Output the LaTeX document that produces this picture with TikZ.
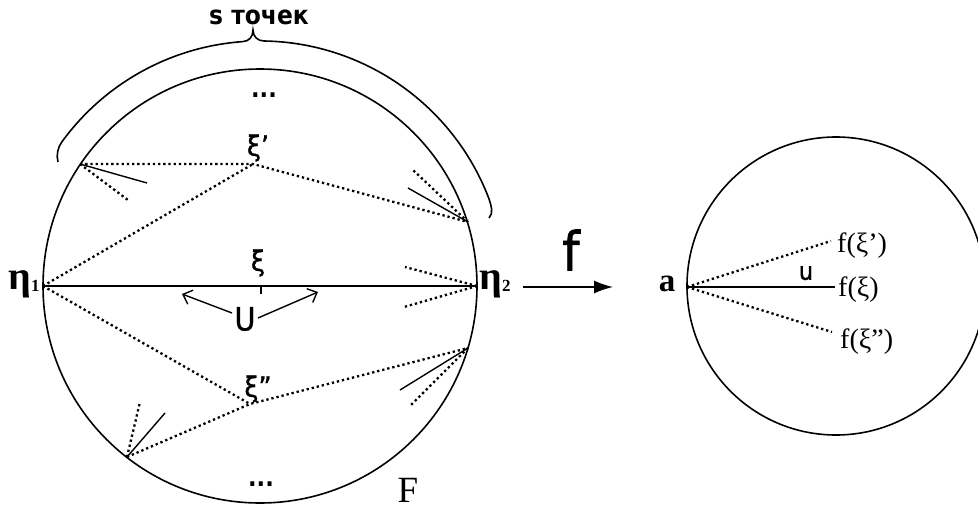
\documentclass[tikz,border=0pt]{standalone}
\usepackage{fontspec}
\newfontfamily\sansf{DejaVu Sans}[FakeStretch=0.9]
\newfontfamily\sansh{DejaVu Sans}[FakeStretch=0.9,FakeBold=1.2]
\newfontfamily\serf{Liberation Serif}
\usetikzlibrary{arrows.meta}
\begin{document}
\begin{tikzpicture}[x=1pt,y=1pt,
  dots/.style={line width=2.3pt, dash pattern=on 2.3pt off 2.9pt},
  solidl/.style={line width=1.4pt},
  circl/.style={line width=1.6pt},
  lbl/.style={inner sep=0pt, anchor=center},
  sanslbl/.style={lbl, font=\sansh\fontsize{28}{28}\selectfont},
  serlbl/.style={lbl, font=\serf\fontsize{28}{28}\selectfont},
  barb/.style={-{Straight Barb[length=8pt,width=15pt]}, line width=1.4pt}]
\useasboundingbox (0,0) rectangle (978,-509);
\fill[white] (0,0) rectangle (978,-509);

% ---------- left circle ----------
\coordinate (O) at (260,-286);
\draw[circl] (O) circle[radius=217];

% brace
\draw[line width=1.6pt]
  (58,-162) .. controls (56,-155) and (58,-147) .. (61.8,-142)
  arc[start angle=144, end angle=94, radius=245]
  .. controls (249,-41.2) and (253,-37) .. (253,-30)
  .. controls (253,-37) and (258,-41) .. (264.3,-41.0)
  arc[start angle=89, end angle=21, radius=245]
  .. controls (491,-205) and (494,-213) .. (489,-218);
\node[font=\sansf\bfseries\fontsize{26}{26}\selectfont, lbl] (stoch) at (259,-17) {s точек};

\node[font=\sansf\bfseries\fontsize{25}{25}\selectfont, lbl] (dtop) at (264,-95) {...};
\node[font=\sansf\bfseries\fontsize{25}{25}\selectfont, lbl] (dbot) at (261,-484) {...};

% points
\coordinate (eta1) at (43,-286);
\coordinate (eta2) at (477,-286);
\coordinate (P1) at (80,-164);
\coordinate (xip) at (253,-164);
\coordinate (P2) at (468,-222);
\coordinate (xipp) at (250,-404);
\coordinate (P3) at (127,-457);
\coordinate (P4) at (468,-348);
\coordinate (xi) at (261,-286);
\coordinate (xitick) at (261,-294);

% dotted polylines
\draw[dots] (P1) -- (xip) -- (P2);
\draw[dots] (eta1) -- (xip);
\draw[dots] (eta1) -- (xipp);
\draw[dots] (P3) -- (xipp) -- (P4);

% short strokes at the boundary points
\coordinate (P1s) at (147,-183); \coordinate (P1d) at (128,-200);
\coordinate (P2s) at (408,-188); \coordinate (P2d) at (413,-170);
\coordinate (E2a) at (405,-267); \coordinate (E2b) at (404,-307);
\coordinate (P3d) at (140,-402); \coordinate (P3s) at (165,-413);
\coordinate (P4s) at (400,-390); \coordinate (P4d) at (411,-405);
\draw[solidl] (P1) -- (P1s);
\draw[dots] (P1) -- (P1d);
\draw[solidl] (P2) -- (P2s);
\draw[dots] (P2) -- (P2d);
\draw[dots] (eta2) -- (E2a);
\draw[dots] (eta2) -- (E2b);
\draw[dots] (P3) -- (P3d);
\draw[solidl] (P3) -- (P3s);
\draw[solidl] (P4) -- (P4s);
\draw[dots] (P4) -- (P4d);

% diameter
\draw[line width=1.2pt] (eta1) -- (xi);
\draw[line width=1.7pt] (xi) -- (eta2);
\draw[line width=1.7pt] (xi) -- (xitick);

% labels
\node[sanslbl] (lxip) at (258,-148) {ξ’};
\node[sanslbl] (lxi) at (258,-263) {ξ};
\node[sanslbl] (lxipp) at (258,-389) {ξ”};
\node[lbl, font=\sansh\fontsize{32}{32}\selectfont] (U) at (245,-319) {U};
\coordinate (Ul) at (232,-313); \coordinate (Ule) at (182,-294);
\coordinate (Ur) at (258,-318); \coordinate (Ure) at (318,-292);
\draw[barb] (Ul) -- (Ule);
\draw[barb] (Ur) -- (Ure);

\node[lbl, font=\serf\bfseries\fontsize{40}{40}\selectfont] (leta1) at (24,-284) {η\raisebox{-2pt}{\fontsize{17}{17}\selectfont 1}};
\node[lbl, font=\serf\bfseries\fontsize{40}{40}\selectfont] (leta2) at (495,-284) {η\raisebox{-2pt}{\fontsize{17}{17}\selectfont 2}};
\node[lbl, font=\serf\fontsize{37}{37}\selectfont] (F) at (408,-490) {F};

% ---------- arrow f ----------
\coordinate (arrS) at (523,-287);
\coordinate (arrE) at (613,-287);
\draw[line width=1.5pt, -{Latex[length=19pt,width=13pt]}] (arrS) -- (arrE);
\node[lbl, font=\sansh\fontsize{54}{54}\selectfont] (lf) at (571,-250) {f};

% ---------- right circle ----------
\coordinate (O2) at (836,-286);
\begin{scope}
\clip (0,0) rectangle (978,-509);
\draw[circl] (O2) circle[radius=149];
\end{scope}
\coordinate (a) at (687,-287);
\coordinate (fxip) at (831,-241);
\coordinate (fxi) at (835,-287);
\coordinate (fxipp) at (832,-332);
\draw[dots] (a) -- (fxip);
\draw[dots] (a) -- (fxipp);
\draw[solidl] (a) -- (fxi);
\node[lbl, font=\serf\bfseries\fontsize{33}{33}\selectfont] (la) at (667,-284) {a};
\node[lbl, font=\sansh\fontsize{25}{25}\selectfont] (lu) at (806,-273) {u};
\node[serlbl, anchor=west] (lfxip) at (837,-246) {f(ξ’)};
\node[serlbl, anchor=west] (lfxi) at (838,-290) {f(ξ)};
\node[serlbl, anchor=west] (lfxipp) at (840,-342) {f(ξ”)};
\end{tikzpicture}
\end{document}
